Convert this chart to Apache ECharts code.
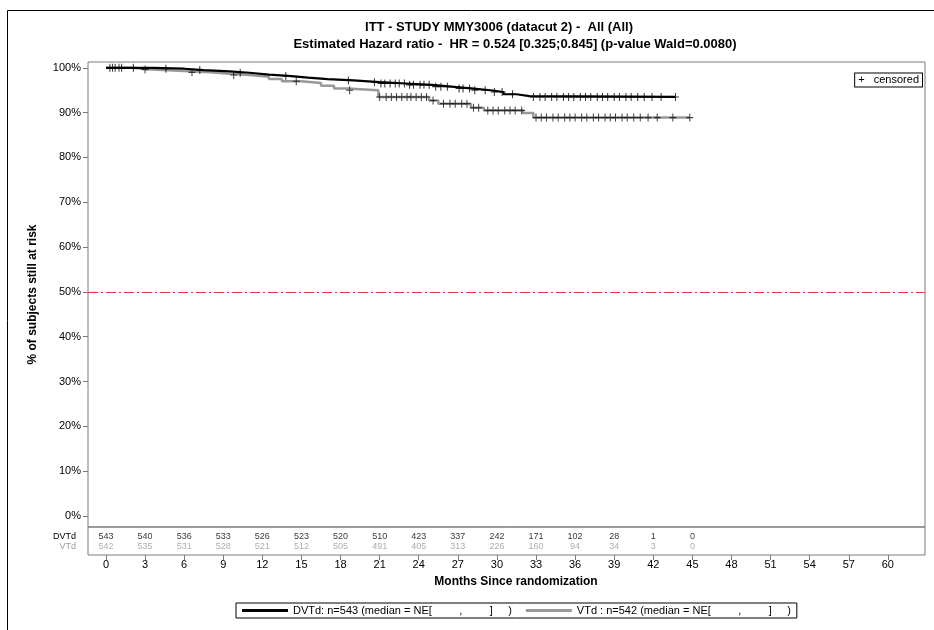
<!DOCTYPE html>
<html>
<head>
<meta charset="utf-8">
<title>ITT - STUDY MMY3006 (datacut 2) - All (All)</title>
<script src="https://cdn.jsdelivr.net/npm/echarts@6/dist/echarts.min.js"></script>
<style>
  html, body { margin: 0; padding: 0; background: #fff; }
  #chart { width: 934px; height: 630px; }
</style>
</head>
<body>
<div id="chart"></div>
<script>
// Axis ticks
const monthTicks = [0, 3, 6, 9, 12, 15, 18, 21, 24, 27, 30, 33, 36, 39, 42, 45, 48, 51, 54, 57, 60];
const pctTicks = [0, 10, 20, 30, 40, 50, 60, 70, 80, 90, 100];

// Numbers at risk
const riskMonths = [0, 3, 6, 9, 12, 15, 18, 21, 24, 27, 30, 33, 36, 39, 42, 45];
const riskDVTd = [543, 540, 536, 533, 526, 523, 520, 510, 423, 337, 242, 171, 102, 28, 1, 0];
const riskVTd  = [542, 535, 531, 528, 521, 512, 505, 491, 405, 313, 226, 160, 94, 34, 3, 0];

// Kaplan-Meier estimates: event times (months) and survival after each step (%)
const dvtdTimes = [0, 3.5, 6, 7.5, 9.5, 11, 12.5, 14, 15.5, 17, 19, 21, 23, 25, 26.5, 28, 29.5, 30.5, 31.5, 32.5];
const dvtdSurv  = [100, 99.8, 99.5, 99.2, 98.9, 98.5, 98.2, 97.8, 97.5, 97.2, 96.8, 96.5, 96.2, 95.8, 95.4, 95.0, 94.6, 94.1, 93.7, 93.5];
const dvtdLast = 43.7;

const vtdTimes = [0, 2, 3.5, 6, 8, 9.5, 11, 12.5, 13.5, 15, 16.5, 17.5, 18.5, 20.9, 24.8, 25.5, 28, 29, 32, 32.8];
const vtdSurv  = [100, 99.6, 99.3, 99.0, 98.7, 98.4, 98.0, 97.5, 97.0, 96.6, 96.0, 95.4, 95.0, 93.5, 92.7, 92.0, 91.1, 90.5, 89.9, 88.9];
const vtdLast = 44.8;

// Censoring times (months)
const dvtdCensor = [0.3, 0.7, 1.2, 2.1, 4.6, 7.2, 10.3, 13.8, 18.6, 20.6, 21.1, 21.4, 21.8, 22.2, 22.5, 22.9, 23.3, 23.6, 24.1, 24.4, 24.8, 25.3, 25.7, 26.2, 27.1, 27.4, 27.9, 28.3, 29.1, 29.8, 30.4, 31.2, 32.8, 33.3, 33.7, 34.2, 34.6, 35.1, 35.5, 35.9, 36.4, 36.8, 37.2, 37.7, 38.1, 38.5, 39.0, 39.4, 39.9, 40.3, 40.8, 41.3, 41.9, 42.6, 43.7];
const vtdCensor = [0.5, 1.0, 3.0, 6.6, 9.8, 14.6, 18.7, 21.0, 21.5, 21.9, 22.3, 22.7, 23.1, 23.4, 23.8, 24.2, 24.6, 25.1, 25.9, 26.4, 26.8, 27.3, 27.7, 28.2, 28.6, 29.3, 29.7, 30.1, 30.6, 31.0, 31.4, 31.9, 33.0, 33.4, 33.8, 34.3, 34.7, 35.2, 35.6, 36.0, 36.5, 36.9, 37.4, 37.8, 38.3, 38.7, 39.1, 39.6, 40.0, 40.5, 41.0, 41.6, 42.3, 43.5, 44.8];

const medianLine = 50;
const dvtdName = 'DVTd: n=543 (median = NE[         ,         ]     )';
const vtdName  = 'VTd : n=542 (median = NE[         ,         ]     )';

// Build a right-continuous step path from the KM estimates
function stepPath(times, surv, last) {
  const pts = [];
  for (let i = 0; i < times.length; i++) {
    if (i > 0) pts.push([times[i], surv[i - 1]]);
    pts.push([times[i], surv[i]]);
  }
  pts.push([last, surv[surv.length - 1]]);
  return pts;
}
function survAt(times, surv, t) {
  let s = surv[0];
  for (let i = 0; i < times.length; i++) if (times[i] <= t) s = surv[i];
  return s;
}
function censorPoints(censor, times, surv) {
  return censor.map(t => [t, survAt(times, surv, t)]);
}

const FONT = 'Liberation Sans, Arial, sans-serif';
const X_MIN = -1.38, X_MAX = 62.85;
const FRAME = '#7a7a7a';
const PLUS = 'path://M3,0H4V3H7V4H4V7H3V4H0V3H3Z';

const chart = echarts.init(document.getElementById('chart'), null, { renderer: 'canvas' });

const option = {
  animation: false,
  backgroundColor: '#fff',
  textStyle: { fontFamily: FONT },
  graphic: [
    { type: 'rect', shape: { x: 7.5, y: 10.5, width: 940, height: 640 }, style: { fill: 'none', stroke: '#000', lineWidth: 1 }, silent: true },
    { type: 'text', x: 499, y: 27, style: { text: 'ITT - STUDY MMY3006 (datacut 2) -  All (All)', font: 'bold 13px ' + FONT, fill: '#000', align: 'center', verticalAlign: 'middle' } },
    { type: 'text', x: 515, y: 44, style: { text: 'Estimated Hazard ratio -  HR = 0.524 [0.325;0.845] (p-value Wald=0.0080)', font: 'bold 13px ' + FONT, fill: '#000', align: 'center', verticalAlign: 'middle' } },
    { type: 'text', x: 516, y: 582, style: { text: 'Months Since randomization', font: 'bold 12px ' + FONT, fill: '#000', align: 'center', verticalAlign: 'middle' } },
    { type: 'text', x: 922, y: 80, style: { text: '+   censored', font: '11px ' + FONT, fill: '#000', align: 'right', verticalAlign: 'middle', borderColor: '#000', borderWidth: 1, padding: [1, 3, 1, 3], backgroundColor: '#fff' } }
  ],
  legend: {
    left: 236, top: 603,
    orient: 'horizontal',
    padding: [2, 6, 2, 6],
    borderColor: '#000', borderWidth: 1,
    itemGap: 14,
    itemWidth: 46, itemHeight: 3,
    textStyle: { fontFamily: FONT, fontSize: 11, color: '#000' },
    data: [
      { name: dvtdName, icon: 'rect' },
      { name: vtdName, icon: 'rect' }
    ]
  },
  grid: [
    { left: 88, right: 9, top: 62, height: 465, show: true, borderColor: FRAME, borderWidth: 1, containLabel: false },
    { left: 88, right: 9, top: 527, height: 28, show: true, borderColor: FRAME, borderWidth: 1, containLabel: false },
    { left: 88, right: 9, top: 532, height: 20, show: false, containLabel: false }
  ],
  xAxis: [
    { type: 'value', gridIndex: 0, min: X_MIN, max: X_MAX, show: false, axisLine: { onZero: false } },
    {
      type: 'value', gridIndex: 1, min: X_MIN, max: X_MAX, position: 'bottom',
      axisLine: { show: false, onZero: false },
      axisTick: { show: true, customValues: monthTicks, length: 5, inside: false, lineStyle: { color: FRAME } },
      axisLabel: { show: true, customValues: monthTicks, margin: 4, fontSize: 11, color: '#000', fontFamily: FONT },
      splitLine: { show: false }
    },
    { type: 'value', gridIndex: 2, min: X_MIN, max: X_MAX, show: false, axisLine: { onZero: false } }
  ],
  yAxis: [
    {
      type: 'value', gridIndex: 0, min: -2.45, max: 101.3, position: 'left',
      name: '% of subjects still at risk', nameLocation: 'middle', nameGap: 49, nameRotate: 90,
      nameTextStyle: { fontFamily: FONT, fontSize: 12, fontWeight: 'bold', color: '#000' },
      axisLine: { show: false, onZero: false },
      axisTick: { show: true, customValues: pctTicks, length: 5, inside: false, lineStyle: { color: FRAME } },
      axisLabel: { show: true, customValues: pctTicks, formatter: '{value}%', margin: 7, fontSize: 11, color: '#000', fontFamily: FONT },
      splitLine: { show: false }
    },
    { type: 'value', gridIndex: 1, min: 0, max: 1, show: false, axisLine: { onZero: false } },
    {
      type: 'category', gridIndex: 2, inverse: true, data: ['DVTd', 'VTd'], position: 'left',
      axisLine: { show: false, onZero: false }, axisTick: { show: false }, splitLine: { show: false },
      axisLabel: { show: true, interval: 0, margin: 12, fontSize: 9, fontFamily: FONT, color: v => (v === 'DVTd' ? '#000' : '#999') }
    }
  ],
  series: [
    {
      name: vtdName, type: 'line', xAxisIndex: 0, yAxisIndex: 0,
      data: stepPath(vtdTimes, vtdSurv, vtdLast), symbol: 'none',
      lineStyle: { color: '#999', width: 2.5 }, itemStyle: { color: '#999' }, z: 2,
      markLine: {
        silent: true, symbol: 'none', label: { show: false },
        lineStyle: { color: '#e33b32', width: 1, type: [10, 3, 2, 3] },
        data: [{ yAxis: medianLine }]
      }
    },
    {
      name: dvtdName, type: 'line', xAxisIndex: 0, yAxisIndex: 0,
      data: stepPath(dvtdTimes, dvtdSurv, dvtdLast), symbol: 'none',
      lineStyle: { color: '#000', width: 2.2 }, itemStyle: { color: '#000' }, z: 3
    },
    {
      type: 'scatter', xAxisIndex: 0, yAxisIndex: 0,
      data: censorPoints(vtdCensor, vtdTimes, vtdSurv),
      symbol: PLUS, symbolSize: [7, 8], itemStyle: { color: '#111' }, z: 4
    },
    {
      type: 'scatter', xAxisIndex: 0, yAxisIndex: 0,
      data: censorPoints(dvtdCensor, dvtdTimes, dvtdSurv),
      symbol: PLUS, symbolSize: [7, 8], itemStyle: { color: '#000' }, z: 5
    },
    {
      type: 'scatter', xAxisIndex: 2, yAxisIndex: 2, symbolSize: 0,
      data: riskMonths.map((m, i) => [m, 'DVTd', riskDVTd[i]]),
      encode: { x: 0, y: 1 },
      label: { show: true, position: 'inside', formatter: p => String(p.value[2]), fontSize: 9, color: '#000', fontFamily: FONT }
    },
    {
      type: 'scatter', xAxisIndex: 2, yAxisIndex: 2, symbolSize: 0,
      data: riskMonths.map((m, i) => [m, 'VTd', riskVTd[i]]),
      encode: { x: 0, y: 1 },
      label: { show: true, position: 'inside', formatter: p => String(p.value[2]), fontSize: 9, color: '#999', fontFamily: FONT }
    }
  ]
};

chart.setOption(option);
</script>
</body>
</html>
